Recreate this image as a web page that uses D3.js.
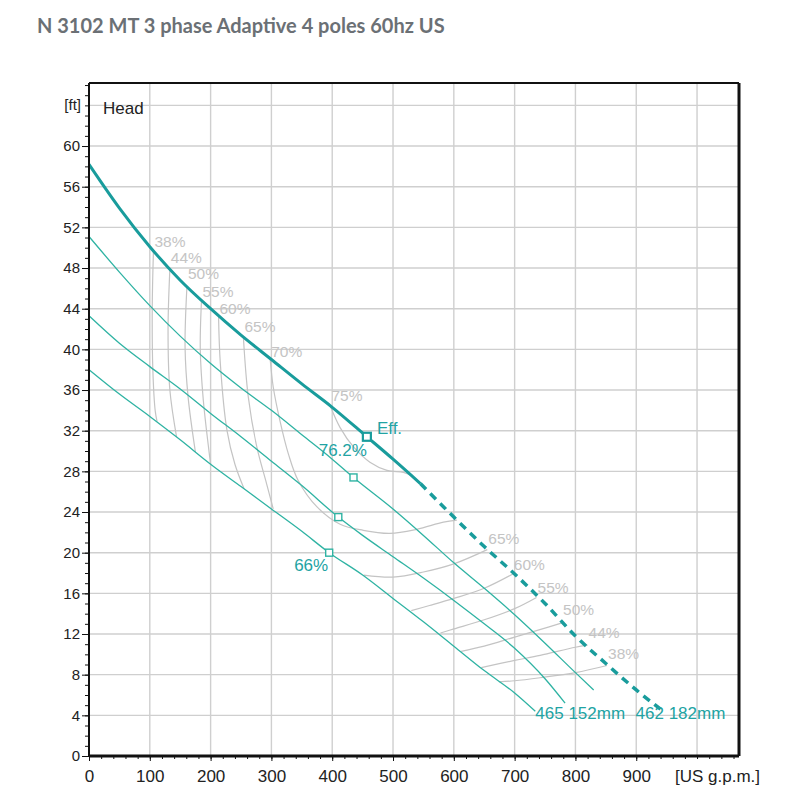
<!DOCTYPE html>
<html lang="en">

<head>
    <meta charset="UTF-8">
    <title>N 3102 MT 3 phase Adaptive 4 poles 60hz US</title>
    <script src="https://d3js.org/d3.v7.min.js"></script>
    <style>
        body {
            margin: 0;
            background: #fff;
        }

        .title {
            font-family: Lato, "Open Sans", sans-serif;
            font-weight: 700;
            font-size: 20px;
            fill: #6b7075;
        }

        .grid line {
            stroke: #cfcfcf;
            stroke-width: 1.4px;
        }

        .axis text {
            font-family: "Liberation Sans", Arial, sans-serif;
            fill: #222;
        }

        .axis line {
            stroke: #111;
        }

        .pct {
            font-family: "Liberation Sans", Arial, sans-serif;
            font-size: 15.5px;
            fill: #c4c4c4;
        }

        .teal-label {
            font-family: "Liberation Sans", Arial, sans-serif;
            font-size: 17px;
            fill: #22a3a3;
        }

        .plain {
            font-family: "Liberation Sans", Arial, sans-serif;
            fill: #222;
        }
    </style>
</head>

<body>
    <script>
        // axis ticks and grid
        const xTicks = [0, 100, 200, 300, 400, 500, 600, 700, 800, 900];
        const yTicks = [0, 4, 8, 12, 16, 20, 24, 28, 32, 36, 40, 44, 48, 52, 56, 60];
        const xGrid = [100, 200, 300, 400, 500, 600, 700, 800, 900, 1000];
        const yGrid = [4, 8, 12, 16, 20, 24, 28, 32, 36, 40, 44, 48, 52, 56, 60, 64];

        // head curves [US gpm, ft]
        const curve462 = [[0, 58.2], [50, 53.9], [100, 50.1], [150, 46.8], [200, 44.0], [250, 41.4], [300, 39.0],
            [350, 36.6], [400, 34.3], [457, 31.4], [500, 29.2], [545, 26.8], [600, 23.5], [650, 20.6],
            [700, 17.9], [750, 15.0], [800, 11.8], [850, 9.1], [900, 6.5], [940, 4.6]];
        const dashFrom = 545;
        const curveUpper = [[0, 51.1], [50, 47.6], [100, 44.3], [150, 41.3], [200, 38.6], [250, 36.2], [300, 34.0],
            [350, 31.6], [400, 29.2], [435, 27.4], [500, 24.3], [550, 21.7], [600, 19.0], [650, 16.5],
            [700, 13.9], [750, 11.1], [800, 8.2], [830, 6.5]];
        const curveMiddle = [[0, 43.3], [50, 40.6], [100, 38.3], [150, 36.1], [200, 33.7], [250, 31.4], [300, 29.0],
            [350, 26.6], [410, 23.5], [450, 21.7], [500, 19.6], [550, 17.5], [600, 15.3], [650, 13.0],
            [700, 10.6], [750, 7.6], [783, 5.2]];
        const curve465 = [[0, 38.0], [50, 35.6], [100, 33.4], [150, 31.1], [200, 28.7], [250, 26.5], [300, 24.3],
            [350, 22.1], [395, 20.0], [450, 17.8], [500, 15.5], [550, 13.2], [600, 10.8], [650, 8.4],
            [700, 6.2], [734, 4.4]];

        // best efficiency points
        const bepPoints = [[457, 31.4], [435, 27.4], [410, 23.5], [395, 20.0]];

        // efficiency contours
        const eff38Left = [[106, 49.7], [104, 44.0], [105, 38.0], [109, 33.9], [112, 32.9]];
        const eff44Left = [[133, 47.9], [130, 41.9], [133, 36.0], [144, 31.4]];
        const eff50Left = [[161, 46.1], [158, 40.2], [163, 35.3], [175, 29.9]];
        const eff55Left = [[185, 44.8], [183, 40.0], [188, 35.0], [200, 28.7]];
        const eff60Left = [[213, 43.4], [216, 38.6], [227, 32.0], [240, 28.7], [255, 26.3]];
        const eff65Left = [[254, 41.1], [262, 35.3], [276, 30.4], [292, 26.8], [303, 24.3]];
        const eff70 = [[298, 39.0], [303, 36.3], [314, 33.0], [328, 29.7], [344, 27.1], [375, 24.5], [413, 22.8],
            [451, 22.2], [495, 21.9], [539, 22.3], [583, 23.0], [605, 23.2]];
        const eff75 = [[397, 34.4], [413, 32.3], [435, 30.4], [462, 28.9], [490, 28.1], [517, 27.9], [531, 27.6]];
        const eff65Right = [[655, 20.3], [600, 18.9], [550, 18.1], [500, 17.6], [452, 17.8]];
        const eff60Right = [[697, 17.9], [650, 16.5], [600, 15.5], [560, 14.8], [530, 14.3]];
        const eff55Right = [[736, 15.6], [700, 14.5], [650, 13.4], [600, 12.5], [578, 12.1]];
        const eff50Right = [[778, 13.1], [740, 12.4], [700, 11.7], [650, 10.8], [612, 10.3]];
        const eff44Right = [[820, 10.9], [800, 10.7], [742, 9.9], [700, 9.4], [645, 8.7]];
        const eff38Right = [[852, 8.9], [800, 8.2], [742, 7.7], [700, 7.4], [674, 7.3]];

        const contours = [
            ["38%", eff38Left], ["44%", eff44Left], ["50%", eff50Left], ["55%", eff55Left],
            ["60%", eff60Left], ["65%", eff65Left], ["70%", eff70], ["75%", eff75],
            ["65%", eff65Right], ["60%", eff60Right], ["55%", eff55Right], ["50%", eff50Right],
            ["44%", eff44Right], ["38%", eff38Right]
        ];
        // how far each % label sits above its contour end (px)
        const labelLift = [4, 6, 8, 4, 1, 6, 3, 5, 6, 4, 4, 8, 7, 7];

        const width = 800;
        const height = 800;
        const thickTeal = "#199c9c";
        const thinTeal = "#2fb3a3";

        const svg = d3.select("body")
            .append("svg")
            .attr("width", width)
            .attr("height", height);

        svg.append("text")
            .attr("class", "title")
            .attr("x", 37)
            .attr("y", 33)
            .text("N 3102 MT 3 phase Adaptive 4 poles 60hz US");

        const x = d3.scaleLinear().domain([0, 1069]).range([89, 739]);
        const y = d3.scaleLinear().domain([0, 66.2]).range([756, 83]);

        // grid
        const grid = svg.append("g").attr("class", "grid");
        grid.selectAll(".gx")
            .data(xGrid)
            .join("line")
            .attr("class", "gx")
            .attr("x1", d => x(d)).attr("x2", d => x(d))
            .attr("y1", y(0)).attr("y2", y.range()[1]);
        grid.selectAll(".gy")
            .data(yGrid)
            .join("line")
            .attr("class", "gy")
            .attr("x1", x(0)).attr("x2", x.range()[1])
            .attr("y1", d => y(d)).attr("y2", d => y(d));

        // efficiency contours
        const contourLine = d3.line()
            .x(d => x(d[0]))
            .y(d => y(d[1]))
            .curve(d3.curveCatmullRom);

        svg.append("g")
            .selectAll("path")
            .data(contours)
            .join("path")
            .attr("d", d => contourLine(d[1]))
            .attr("fill", "none")
            .attr("stroke", "#c4c4c4")
            .attr("stroke-width", 1.2);

        svg.append("g")
            .selectAll("text")
            .data(contours)
            .join("text")
            .attr("class", "pct")
            .attr("x", d => x(d[1][0][0]) + 1)
            .attr("y", (d, i) => y(d[1][0][1]) - labelLift[i])
            .text(d => d[0]);

        // head curves
        const headLine = d3.line()
            .x(d => x(d[0]))
            .y(d => y(d[1]))
            .curve(d3.curveMonotoneX);

        svg.append("g")
            .selectAll("path")
            .data([curveUpper, curveMiddle, curve465])
            .join("path")
            .attr("d", headLine)
            .attr("fill", "none")
            .attr("stroke", thinTeal)
            .attr("stroke-width", 1.3);

        svg.append("path")
            .attr("d", headLine(curve462.filter(d => d[0] <= dashFrom)))
            .attr("fill", "none")
            .attr("stroke", thickTeal)
            .attr("stroke-width", 3);

        svg.append("path")
            .attr("d", headLine(curve462.filter(d => d[0] >= dashFrom)))
            .attr("fill", "none")
            .attr("stroke", thickTeal)
            .attr("stroke-width", 3.5)
            .attr("stroke-dasharray", "8,6");

        // BEP markers
        svg.append("g")
            .selectAll("rect")
            .data(bepPoints)
            .join("rect")
            .attr("x", (d, i) => x(d[0]) - (i === 0 ? 4 : 3.5))
            .attr("y", (d, i) => y(d[1]) - (i === 0 ? 4 : 3.5))
            .attr("width", (d, i) => i === 0 ? 8 : 7)
            .attr("height", (d, i) => i === 0 ? 8 : 7)
            .attr("fill", "#fff")
            .attr("stroke", (d, i) => i === 0 ? thickTeal : thinTeal)
            .attr("stroke-width", (d, i) => i === 0 ? 2.2 : 1.4);

        // teal labels
        const eff = bepPoints[0];
        const small = bepPoints[3];
        const end465 = curve465[curve465.length - 1];
        const end462 = curve462[curve462.length - 1];

        svg.append("text").attr("class", "teal-label")
            .attr("x", x(eff[0]) + 10).attr("y", y(eff[1]) - 3)
            .text("Eff.");
        svg.append("text").attr("class", "teal-label")
            .attr("x", x(eff[0])).attr("y", y(eff[1]) + 19)
            .attr("text-anchor", "end")
            .text("76.2%");
        svg.append("text").attr("class", "teal-label")
            .attr("x", x(small[0]) - 1).attr("y", y(small[1]) + 18)
            .attr("text-anchor", "end")
            .text("66%");
        svg.append("text").attr("class", "teal-label")
            .attr("x", x(end465[0])).attr("y", y(end465[1]) + 8)
            .text("465 152mm");
        svg.append("text").attr("class", "teal-label")
            .attr("x", x(end462[0]) - 25).attr("y", y(end462[1]) + 10)
            .text("462 182mm");

        // axes
        const xAxis = svg.append("g")
            .attr("class", "axis")
            .attr("transform", `translate(0,${y(0)})`)
            .call(d3.axisBottom(x).tickValues(xTicks).tickSize(5).tickPadding(9));
        xAxis.selectAll("text").style("font-size", "17px");
        xAxis.select(".domain").remove();

        const xMinor = svg.append("g")
            .attr("class", "axis")
            .attr("transform", `translate(0,${y(0)})`)
            .call(d3.axisBottom(x).tickValues(d3.range(0, 1061, 20)).tickSize(3).tickFormat(""));
        xMinor.select(".domain").remove();

        const yAxis = svg.append("g")
            .attr("class", "axis")
            .attr("transform", `translate(${x(0)},0)`)
            .call(d3.axisLeft(y).tickValues(yTicks).tickSize(7).tickPadding(2));
        yAxis.selectAll("text").style("font-size", "15px");
        yAxis.select(".domain").remove();

        const yMinor = svg.append("g")
            .attr("class", "axis")
            .attr("transform", `translate(${x(0)},0)`)
            .call(d3.axisLeft(y).tickValues(d3.range(0, 67, 1)).tickSize(4).tickFormat(""));
        yMinor.select(".domain").remove();

        // frame
        const [x0, x1] = x.range();
        const [y0, y1] = y.range();
        svg.append("line").attr("x1", x0).attr("x2", x0).attr("y1", y0).attr("y2", y1)
            .attr("stroke", "#111").attr("stroke-width", 2);
        svg.append("line").attr("x1", x0).attr("x2", x1).attr("y1", y1).attr("y2", y1)
            .attr("stroke", "#111").attr("stroke-width", 2);
        svg.append("line").attr("x1", x1).attr("x2", x1).attr("y1", y1).attr("y2", y0)
            .attr("stroke", "#111").attr("stroke-width", 3);
        svg.append("line").attr("x1", x0).attr("x2", x1).attr("y1", y0).attr("y2", y0)
            .attr("stroke", "#111").attr("stroke-width", 3);

        // axis captions
        svg.append("text").attr("class", "plain")
            .attr("x", 675).attr("y", 782)
            .style("font-size", "17px")
            .text("[US g.p.m.]");
        svg.append("text").attr("class", "plain")
            .attr("x", 81).attr("y", y(64) + 5)
            .attr("text-anchor", "end")
            .style("font-size", "15px")
            .text("[ft]");
        svg.append("text").attr("class", "plain")
            .attr("x", 103).attr("y", y(64) + 9)
            .style("font-size", "17px")
            .text("Head");
    </script>
</body>

</html>
